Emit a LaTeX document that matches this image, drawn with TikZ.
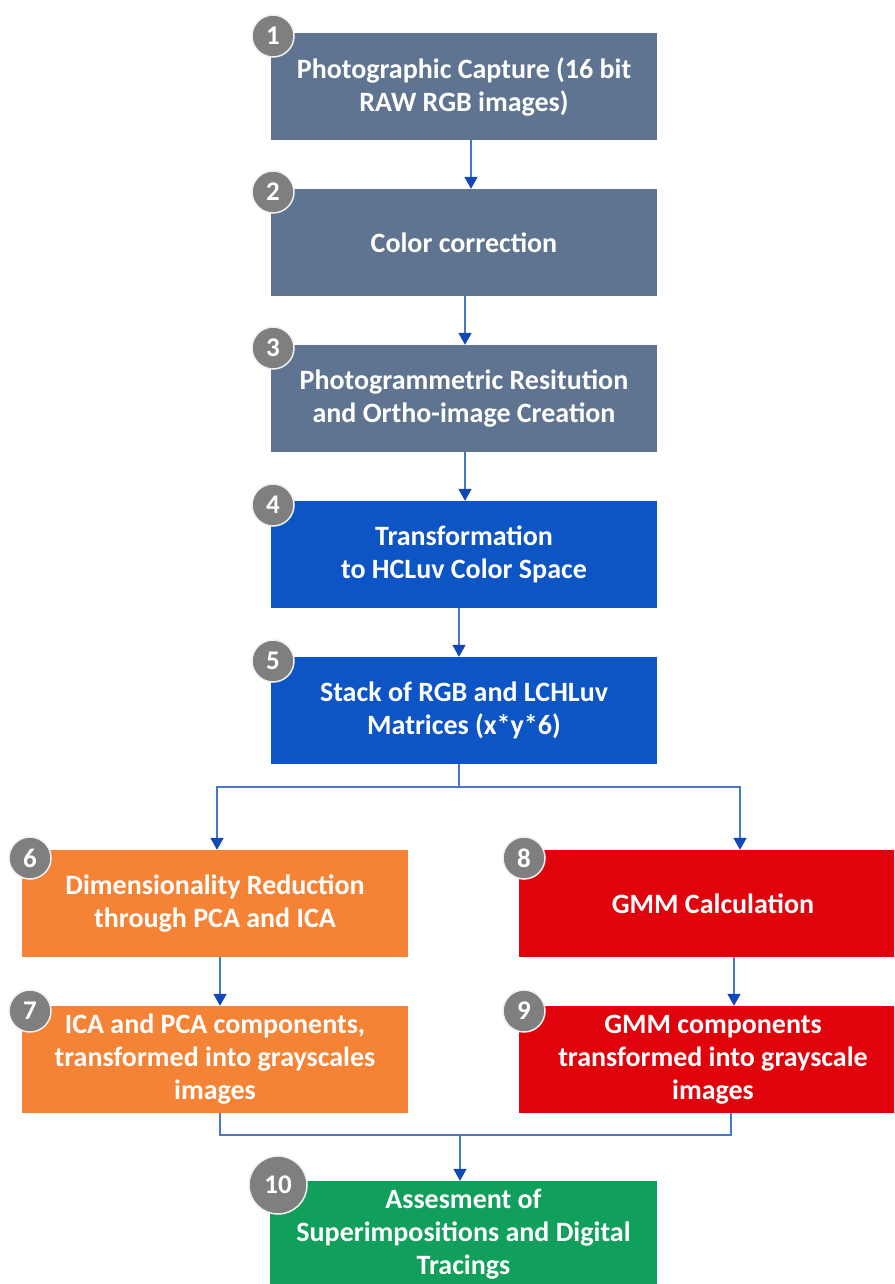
\documentclass[tikz,border=0pt]{standalone}
\usepackage{fontspec}
\setmainfont{Carlito}
\usetikzlibrary{arrows.meta}
\definecolor{slate}{HTML}{5F7491}
\definecolor{bblue}{HTML}{0D55C4}
\definecolor{orng}{HTML}{F58335}
\definecolor{rred}{HTML}{E0030C}
\definecolor{grn}{HTML}{10A05C}
\definecolor{cgray}{HTML}{7F7F7F}
\definecolor{linecol}{HTML}{4A78C8}
\definecolor{headcol}{HTML}{1148B8}
\tikzset{
  box/.style={rectangle, minimum width=386pt, minimum height=107pt, inner sep=0pt,
    align=center, text=white, font=\fontsize{28}{33}\selectfont\bfseries},
  badge/.style={circle, fill=cgray, draw=white!88!gray, line width=1.5pt, minimum size=42pt,
    inner sep=0pt, text=white, font=\fontsize{27}{30}\selectfont\bfseries},
  link/.style={draw=linecol, line width=1.6pt},
  conn/.style={link, -{Triangle[width=13pt,length=12pt,color=headcol]}},
}
\begin{document}
\begin{tikzpicture}[x=1pt,y=-1pt]
\useasboundingbox (0,0) rectangle (894,1284);
\begin{scope}
\clip (0,0) rectangle (894,1284);
\node[box, fill=slate] (b1) at (464,86.5) {Photographic Capture (16 bit\\RAW RGB images)};
\node[box, fill=slate] (b2) at (464,242.5) {Color correction};
\node[box, fill=slate] (b3) at (464,398.5) {Photogrammetric Resitution\\and Ortho-image Creation};
\node[box, fill=bblue] (b4) at (464,554.5) {Transformation\\to HCLuv Color Space};
\node[box, fill=bblue] (b5) at (464,710.5) {Stack of RGB and LCHLuv\\Matrices (x*y*6)};
\node[box, fill=orng] (b6) at (215,903.5) {Dimensionality Reduction\\through PCA and ICA};
\node[box, fill=orng] (b7) at (215,1059.5) {ICA and PCA components,\\transformed into grayscales\\images};
\node[box, fill=rred, minimum width=388pt] (b8) at (713,903.5) {GMM Calculation};
\node[box, fill=rred, minimum width=388pt] (b9) at (713,1059.5) {GMM components\\transformed into grayscale\\images};
\node[box, fill=grn, minimum width=387pt] (b10) at (463.5,1234.5) {Assesment of\\Superimpositions and Digital\\Tracings};

\coordinate (split) at (459,787);
\coordinate (merge) at (460,1135);

\draw[conn] ([xshift=7pt]b1.south) -- ([xshift=7pt]b2.north);
\draw[conn] ([xshift=1pt]b2.south) -- ([xshift=1pt]b3.north);
\draw[conn] ([xshift=1pt]b3.south) -- ([xshift=1pt]b4.north);
\draw[conn] ([xshift=-5pt]b4.south) -- ([xshift=-5pt]b5.north);
\draw[link] ([xshift=-5pt]b5.south) -- (split);
\draw[conn] (split) -| ([xshift=2pt]b6.north);
\draw[conn] (split) -| ([xshift=27pt]b8.north);
\draw[conn] ([xshift=5pt]b6.south) -- ([xshift=5pt]b7.north);
\draw[conn] ([xshift=21pt]b8.south) -- ([xshift=21pt]b9.north);
\draw[link] ([xshift=5pt]b7.south) |- (merge);
\draw[link] ([xshift=18pt]b9.south) |- (merge);
\draw[conn] (merge) -- ([xshift=-3.5pt]b10.north);

\node[badge] (c1) at (273,36) {1};
\node[badge] (c2) at (273,192) {2};
\node[badge] (c3) at (273,348) {3};
\node[badge] (c4) at (273,505) {4};
\node[badge] (c5) at (273,661) {5};
\node[badge] (c6) at (30,858) {6};
\node[badge] (c7) at (30,1011) {7};
\node[badge] (c8) at (524,858) {8};
\node[badge] (c9) at (524,1011) {9};
\node[badge, minimum size=58pt] (c10) at (278,1185) {10};
\end{scope}
\end{tikzpicture}
\end{document}
